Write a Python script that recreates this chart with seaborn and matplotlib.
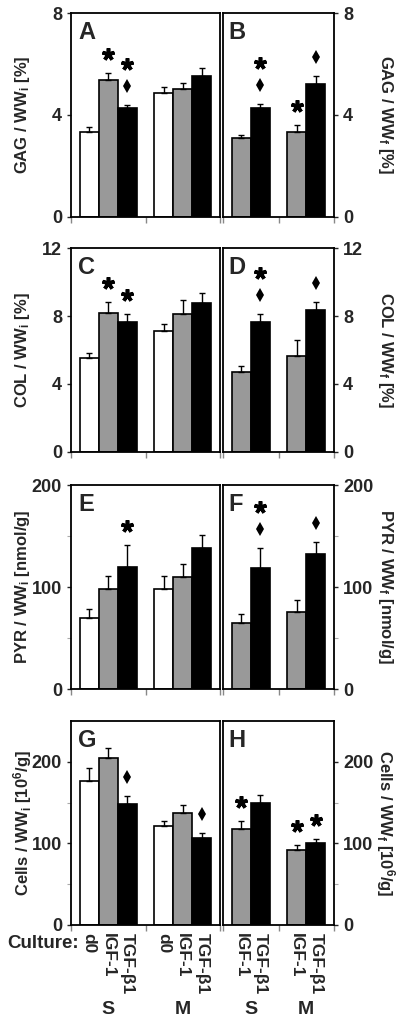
import numpy as np
import pandas as pd
import matplotlib
matplotlib.use('Agg')
import matplotlib.pyplot as plt
import matplotlib.transforms as mtransforms
import seaborn as sns

# groups and treatments
groups = ['S', 'M']
treat_i = ['d0', 'IGF-1', 'TGF-β1']
treat_f = ['IGF-1', 'TGF-β1']

# left panels (per initial wet weight): S d0, S IGF, S TGF, M d0, M IGF, M TGF
gag_i = [3.34, 5.39, 4.26, 4.85, 5.00, 5.51]
gag_i_err = [0.17, 0.24, 0.15, 0.25, 0.26, 0.34]
col_i = [5.51, 8.19, 7.65, 7.09, 8.12, 8.74]
col_i_err = [0.32, 0.63, 0.47, 0.46, 0.85, 0.62]
pyr_i = [70, 98, 120, 98, 110, 138]
pyr_i_err = [8, 13, 21, 13, 13, 13]
cells_i = [177, 205, 148, 121, 137, 106]
cells_i_err = [15, 12, 10, 6, 10, 7]

# right panels (per final wet weight): S IGF, S TGF, M IGF, M TGF
gag_f = [3.11, 4.26, 3.35, 5.22]
gag_f_err = [0.09, 0.18, 0.25, 0.32]
col_f = [4.68, 7.65, 5.67, 8.33]
col_f_err = [0.37, 0.45, 0.91, 0.50]
pyr_f = [65, 119, 76, 132]
pyr_f_err = [9, 19, 11.5, 12]
cells_f = [118, 149, 92, 101]
cells_f_err = [10, 10, 6, 4]

# significance marks (* = vs d0, d = vs IGF-1)
marks_A = ['', '*', '*d', '', '', '']
marks_B = ['', '*d', '*', 'd']
marks_C = ['', '*', '*', '', '', '']
marks_D = ['', '*d', '', 'd']
marks_E = ['', '', '*', '', '', '']
marks_F = ['', '*d', '', 'd']
marks_G = ['', '', 'd', '', '', 'd']
marks_H = ['*', '', '*', '*']

sns.set_style('ticks')
plt.rcParams['font.family'] = ['Liberation Sans', 'DejaVu Sans']
plt.rcParams['font.weight'] = 'bold'
plt.rcParams['mathtext.fontset'] = 'custom'
plt.rcParams['mathtext.rm'] = 'Liberation Sans:bold'
plt.rcParams['mathtext.bf'] = 'Liberation Sans:bold'
plt.rcParams['mathtext.it'] = 'Liberation Sans:bold'

colors = {'d0': '#ffffff', 'IGF-1': '#999999', 'TGF-β1': '#000000'}

fig = plt.figure(figsize=(4, 10.24), dpi=100)

rows = [
    (gag_i, gag_i_err, gag_f, gag_f_err, marks_A, marks_B, 'A', 'B', 8, [0, 4, 8], [],
     r'GAG / WW$_\mathbf{i}$ [%]', r'GAG / WW$_\mathbf{f}$ [%]'),
    (col_i, col_i_err, col_f, col_f_err, marks_C, marks_D, 'C', 'D', 12, [0, 4, 8, 12], [],
     r'COL / WW$_\mathbf{i}$ [%]', r'COL / WW$_\mathbf{f}$ [%]'),
    (pyr_i, pyr_i_err, pyr_f, pyr_f_err, marks_E, marks_F, 'E', 'F', 200, [0, 100, 200], [50, 150],
     r'PYR / WW$_\mathbf{i}$ [nmol/g]', r'PYR / WW$_\mathbf{f}$ [nmol/g]'),
    (cells_i, cells_i_err, cells_f, cells_f_err, marks_G, marks_H, 'G', 'H', 250, [0, 100, 200], [50, 150],
     r'Cells / WW$_\mathbf{i}$ [10$^\mathbf{6}$/g]', r'Cells / WW$_\mathbf{f}$ [10$^\mathbf{6}$/g]'),
]
row_bottoms = [0.7881, 0.5586, 0.3271, 0.0967]
row_h = 0.1992


def draw_panel(ax, vals, errs, marks, treats, width, letter, ymax, yticks, yminor, bottom_row):
    df = pd.DataFrame({
        'group': [g for g in groups for t in treats],
        'treat': [t for g in groups for t in treats],
        'val': vals,
        'err': errs,
        'mark': marks,
    })
    sns.barplot(data=df, x='group', y='val', hue='treat', hue_order=treats,
                palette=colors, edgecolor='black', linewidth=1.2, width=width,
                errorbar=None, legend=False, ax=ax, saturation=1)
    centers = []
    for t, cont in zip(treats, ax.containers):
        for g, bar in zip(groups, cont):
            row = df[(df['group'] == g) & (df['treat'] == t)].iloc[0]
            xc = bar.get_x() + bar.get_width() / 2
            top = row['val'] + row['err']
            centers.append((xc, t))
            ax.errorbar(xc, row['val'], yerr=[[0], [row['err']]], fmt='none',
                        ecolor='black', elinewidth=1, capsize=2.5, capthick=1)
            # lower mark sits ~19 px above the error bar, the next one 22 px higher
            for k, m in enumerate(reversed(row['mark'])):
                tr = mtransforms.offset_copy(ax.transData, fig=fig, x=0, y=19 + 22 * k, units='dots')
                if m == '*':
                    ax.plot([xc], [top], transform=tr, marker=(5, 2, 0), ms=9, mew=2.6,
                            color='black', clip_on=False)
                else:
                    ax.plot([xc], [top], transform=tr, marker='d', ms=7, mew=0,
                            color='black', clip_on=False)
    ax.set_xlim(-0.5, 1.5)
    ax.set_ylim(0, ymax)
    ax.set_yticks(yticks)
    ax.set_yticks(yminor, minor=True)
    ax.set_xlabel('')
    ax.set_ylabel('')
    for s in ax.spines.values():
        s.set_visible(True)
        s.set_linewidth(1.3)
        s.set_color('black')
    ax.set_xticks([-0.5, 0.5, 1.5], minor=True)
    ax.tick_params(axis='x', which='minor', length=4, width=1, color='#888888', direction='out')
    centers.sort()
    if bottom_row:
        ax.set_xticks([c for c, t in centers], [t for c, t in centers], rotation=270,
                      fontsize=12.5, fontweight='bold')
        ax.tick_params(axis='x', which='major', length=0, pad=6)
        btrans = mtransforms.blended_transform_factory(ax.transData, ax.transAxes)
        for i, g in enumerate(groups):
            ax.text(i, -0.415, g, transform=btrans, ha='center', va='center',
                    fontsize=14, fontweight='bold')
    else:
        ax.set_xticks([])
    ax.tick_params(axis='y', which='major', length=3, width=1, labelsize=13, direction='out')
    ax.tick_params(axis='y', which='minor', length=3, width=0.8, color='#aaaaaa', direction='out')
    for lab in ax.get_yticklabels():
        lab.set_fontweight('bold')
    ax.text(0.05, 0.96, letter, transform=ax.transAxes, ha='left', va='top',
            fontsize=17, fontweight='bold')


for r, (vi, ei, vf, ef, mi, mf, li, lf, ymax, yt, ym, labi, labf) in enumerate(rows):
    bottom_row = r == 3
    axl = fig.add_axes([0.1775, row_bottoms[r], 0.3725, row_h])
    draw_panel(axl, vi, ei, mi, treat_i, 0.77, li, ymax, yt, ym, bottom_row)
    axl.set_ylabel(labi, fontsize=12, fontweight='bold', rotation=90, va='center', ha='center')
    axl.yaxis.set_label_coords(-0.325, 0.5)

    axr = fig.add_axes([0.5575, row_bottoms[r], 0.2775, row_h])
    draw_panel(axr, vf, ef, mf, treat_f, 0.685, lf, ymax, yt, ym, bottom_row)
    axr.yaxis.tick_right()
    axr.yaxis.set_label_position('right')
    axr.set_ylabel(labf, fontsize=12, fontweight='bold', rotation=270, va='center', ha='center')
    axr.yaxis.set_label_coords(1.46, 0.5)

fig.text(0.018, 1 - 943 / 1024, 'Culture:', ha='left', va='center', fontsize=13.5, fontweight='bold')

fig.savefig('out.png', dpi=100)
